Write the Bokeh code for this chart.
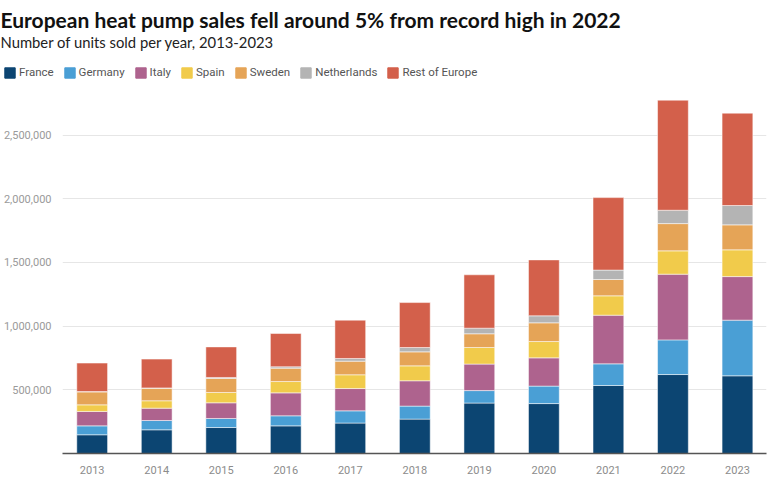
from bokeh.plotting import figure
from bokeh.layouts import column
from bokeh.models import (ColumnDataSource, Legend, LegendItem, FixedTicker,
                          NumeralTickFormatter, Range1d)
from bokeh.core.properties import value
from bokeh.embed import file_html
from bokeh.resources import INLINE

years = [2013, 2014, 2015, 2016, 2017, 2018, 2019, 2020, 2021, 2022, 2023]
year_labels = ["2013", "2014", "2015", "2016", "2017", "2018", "2019", "2020", "2021", "2022", "2023"]
france = [147000, 186000, 204000, 217000, 239000, 270000, 396000, 392000, 534000, 620000, 610000]
germany = [70000, 73000, 71000, 79000, 96000, 102000, 98000, 137000, 170000, 272000, 437000]
italy = [113000, 97000, 123000, 180000, 175000, 199000, 208000, 222000, 382000, 516000, 342000]
spain = [52000, 58000, 81000, 89000, 108000, 117000, 130000, 128000, 152000, 183000, 210000]
sweden = [102000, 99000, 110000, 105000, 107000, 110000, 108000, 147000, 128000, 214000, 196000]
netherlands = [2000, 2000, 8000, 11000, 21000, 34000, 44000, 55000, 74000, 105000, 152000]
rest_of_europe = [224000, 226000, 240000, 261000, 301000, 353000, 419000, 439000, 569000, 864000, 725000]

series_names = ["France", "Germany", "Italy", "Spain", "Sweden", "Netherlands", "Rest of Europe"]
keys = ["france", "germany", "italy", "spain", "sweden", "netherlands", "rest"]
colors = ["#0c4572", "#4a9fd5", "#ae638e", "#f1cb4b", "#e5a457", "#b4b4b4", "#d3604b"]
y_ticks = [500000, 1000000, 1500000, 2000000, 2500000]

title_text = "European heat pump sales fell around 5% from record high in 2022"
subtitle_text = "Number of units sold per year, 2013-2023"

# ---------- header: title, subtitle, legend ----------
head = figure(width=768, height=90, output_backend="svg", toolbar_location=None,
              x_range=Range1d(0, 768), y_range=Range1d(0, 90),
              x_axis_location=None, y_axis_location=None,
              min_border_left=0, min_border_right=0, min_border_top=0, min_border_bottom=0)
head.grid.visible = False
head.outline_line_color = None
head.background_fill_color = "white"
head.border_fill_color = "white"

head.text(x=[0], y=[71], text=[title_text], text_font=value("Lato"),
          text_font_size="21px", text_font_style="bold", text_color="#111111",
          text_baseline="alphabetic", text_align="left")
head.text(x=[0], y=[49], text=[subtitle_text], text_font=value("Lato"),
          text_font_size="14.8px", text_color="#222222",
          text_baseline="alphabetic", text_align="left")

legend_items = []
for name, c in zip(series_names, colors):
    r = head.vbar(x=[-100], top=[0], width=1, color=c)
    legend_items.append(LegendItem(label=name, renderers=[r]))
legend = Legend(items=legend_items, orientation="horizontal", location=(3, 11),
                glyph_width=13, glyph_height=13, label_standoff=3, spacing=9,
                padding=0, margin=0, border_line_color=None, background_fill_alpha=0,
                label_text_font="Roboto", label_text_font_size="11.5px",
                label_text_color="#555555", label_height=13)
head.add_layout(legend, "center")

# ---------- main chart ----------
source = ColumnDataSource(dict(year=years, france=france, germany=germany, italy=italy,
                               spain=spain, sweden=sweden, netherlands=netherlands,
                               rest=rest_of_europe))

p = figure(width=768, height=389, output_backend="svg", toolbar_location=None,
           x_range=Range1d(2012.54, 2023.45), y_range=Range1d(0, 2850000),
           min_border_left=57, min_border_right=2, min_border_bottom=26, min_border_top=0)

p.vbar_stack(keys, x="year", width=0.477, color=colors, source=source,
             line_color="white", line_width=0.5)

p.outline_line_color = None
p.background_fill_color = "white"
p.border_fill_color = "white"

p.xgrid.grid_line_color = None
p.ygrid.grid_line_color = "#e6e6e6"
p.ygrid.grid_line_width = 1
p.ygrid.ticker = FixedTicker(ticks=y_ticks)

p.xaxis.ticker = FixedTicker(ticks=years)
p.xaxis.major_label_overrides = {y: s for y, s in zip(years, year_labels)}
p.xaxis.axis_line_color = "#555555"
p.xaxis.axis_line_width = 1.5
p.xaxis.major_tick_line_color = None
p.xaxis.minor_tick_line_color = None
p.xaxis.major_label_text_font = "Roboto"
p.xaxis.major_label_text_font_size = "11px"
p.xaxis.major_label_text_color = "#8c8c8c"
p.xaxis.major_label_standoff = 6

p.yaxis.ticker = FixedTicker(ticks=y_ticks)
p.yaxis.formatter = NumeralTickFormatter(format="0,0")
p.yaxis.axis_line_color = None
p.yaxis.major_tick_line_color = None
p.yaxis.minor_tick_line_color = None
p.yaxis.major_label_text_font = "Roboto"
p.yaxis.major_label_text_font_size = "11px"
p.yaxis.major_label_text_color = "#9a9a9a"
p.yaxis.major_label_standoff = 5

layout = column(column(head, spacing=0), column(p, spacing=0), spacing=0)
open("out.html", "w").write(file_html(layout, INLINE))
